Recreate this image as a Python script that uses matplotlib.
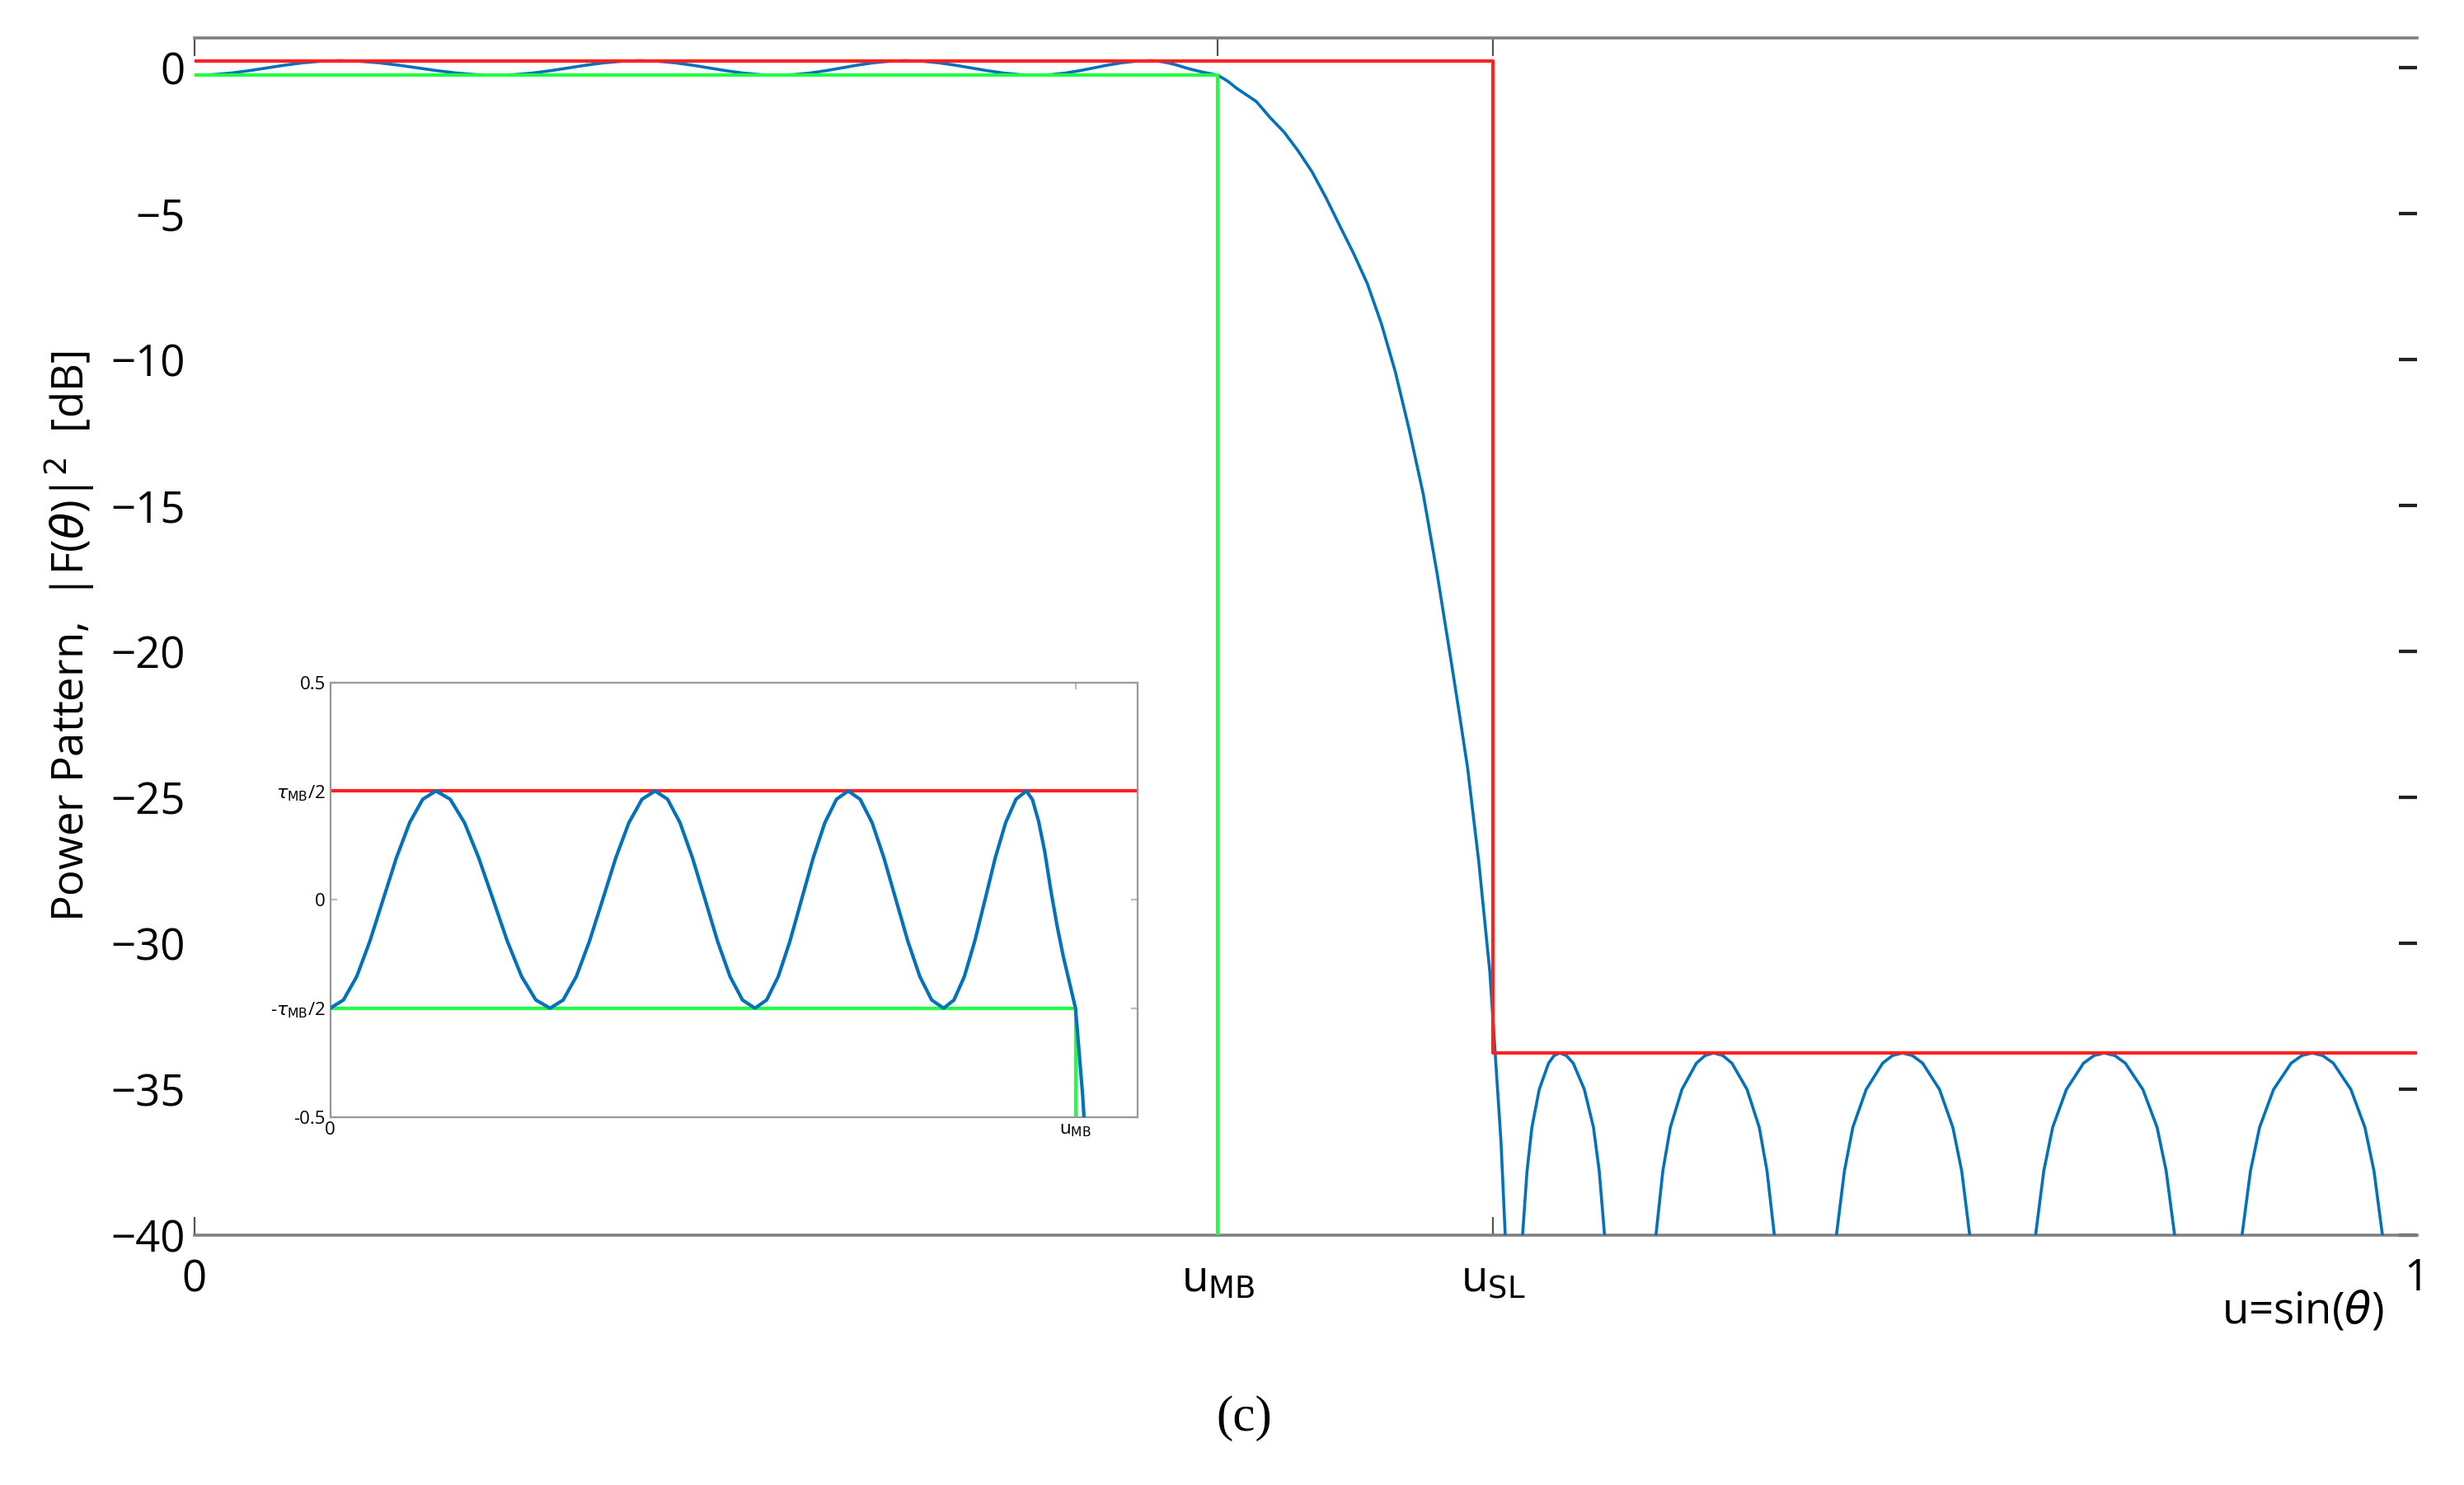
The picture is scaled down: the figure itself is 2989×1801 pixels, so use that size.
import numpy as np
import matplotlib
matplotlib.use("Agg")
import matplotlib.pyplot as plt

plt.rcParams["font.family"] = ["Open Sans", "DejaVu Sans"]
plt.rcParams["mathtext.fontset"] = "dejavusans"

# ── values ────────────────────────────────────────────────────────────
U_MB = 0.4606
U_SL = 0.5845
RIPPLE = 0.25          # tau_MB / 2  [dB]
SLL = -33.75           # side lobe level [dB]

# pass-band ripple (u, dB)
ripple_u = [0.0000, 0.0082, 0.0164, 0.0245, 0.0327, 0.0409, 0.0491, 0.0572, 0.0654,
            0.0742, 0.0830, 0.0918, 0.1007, 0.1095, 0.1183, 0.1271, 0.1359,
            0.1440, 0.1521, 0.1602, 0.1684, 0.1765, 0.1846, 0.1927, 0.2008,
            0.2085, 0.2162, 0.2239, 0.2317, 0.2394, 0.2471, 0.2548, 0.2625,
            0.2697, 0.2769, 0.2841, 0.2913, 0.2985, 0.3057, 0.3129, 0.3201,
            0.3275, 0.3349, 0.3422, 0.3496, 0.3570, 0.3644, 0.3717, 0.3791,
            0.3855, 0.3919, 0.3983, 0.4047, 0.4110, 0.4174, 0.4238, 0.4302,
            0.4340, 0.4378, 0.4416, 0.4454, 0.4492, 0.4530, 0.4568, 0.4606, 0.4650]
ripple_db = [-0.250, -0.231, -0.177, -0.096, 0.000, 0.096, 0.177, 0.231, 0.250,
             0.231, 0.177, 0.096, 0.000, -0.096, -0.177, -0.231, -0.250,
             -0.231, -0.177, -0.096, 0.000, 0.096, 0.177, 0.231, 0.250,
             0.231, 0.177, 0.096, 0.000, -0.096, -0.177, -0.231, -0.250,
             -0.231, -0.177, -0.096, 0.000, 0.096, 0.177, 0.231, 0.250,
             0.231, 0.177, 0.096, 0.000, -0.096, -0.177, -0.231, -0.250,
             -0.231, -0.177, -0.096, 0.000, 0.096, 0.177, 0.231, 0.250,
             0.230, 0.180, 0.110, 0.020, -0.060, -0.130, -0.190, -0.250, -0.450]

# transition band roll-off
roll_u = [0.4691, 0.4779, 0.4841, 0.4904, 0.4966, 0.5029, 0.5092, 0.5154,
          0.5217, 0.5279, 0.5342, 0.5404, 0.5467, 0.5530, 0.5592, 0.5655,
          0.5692, 0.5730, 0.5780, 0.5805, 0.5830, 0.5855, 0.5880, 0.5899, 0.5905]
roll_db = [-0.70, -1.15, -1.70, -2.20, -2.83, -3.55, -4.44, -5.40,
           -6.36, -7.40, -8.77, -10.4, -12.4, -14.6, -17.3, -20.3,
           -22.1, -24.0, -27.2, -29.1, -31.0, -33.9, -36.8, -40.0, -41.5]

# side lobes (u, dB), one list per lobe
lobe_db = [-40.0, -37.8, -36.3, -35.0, -34.1, -33.84, -33.75,
           -33.84, -34.1, -35.0, -36.3, -37.8, -40.0]
lobes_u = [
    [0.5977, 0.5997, 0.6019, 0.6052, 0.6094, 0.6119, 0.6144,
     0.6174, 0.6205, 0.6255, 0.6296, 0.6322, 0.6346],
    [0.6577, 0.6608, 0.6642, 0.6694, 0.6759, 0.6798, 0.6837,
     0.6878, 0.6919, 0.6987, 0.7042, 0.7077, 0.7110],
    [0.7389, 0.7425, 0.7463, 0.7523, 0.7597, 0.7641, 0.7686,
     0.7731, 0.7777, 0.7853, 0.7913, 0.7953, 0.7989],
    [0.8285, 0.8322, 0.8362, 0.8424, 0.8501, 0.8548, 0.8594,
     0.8642, 0.8689, 0.8768, 0.8832, 0.8873, 0.8911],
    [0.9214, 0.9252, 0.9293, 0.9356, 0.9435, 0.9483, 0.9530,
     0.9577, 0.9625, 0.9704, 0.9767, 0.9808, 0.9846],
]

y_ticks = [0, -5, -10, -15, -20, -25, -30, -35, -40]

BLUE = "#0072BD"
RED = "#FF2020"
GREEN = "#20FF40"

fig = plt.figure(figsize=(14.945, 9.005), dpi=200)
ax = fig.add_axes([0.0788, 0.1681, 0.9020, 0.8064])

# ── main plot ─────────────────────────────────────────────────────────
main_u = ripple_u + roll_u
main_db = ripple_db + roll_db
ax.plot(main_u, main_db, color=BLUE, lw=1.3, zorder=3)
for lu in lobes_u:
    ax.plot(lu, lobe_db, color=BLUE, lw=1.3, zorder=3)

ax.plot([0, U_SL, U_SL, 1], [RIPPLE, RIPPLE, SLL, SLL], color=RED, lw=1.5, zorder=4)
ax.plot([0, U_MB, U_MB], [-RIPPLE, -RIPPLE, -40], color=GREEN, lw=1.5, zorder=4)

ax.set_xlim(0, 1)
ax.set_ylim(-40, 1.03)
ax.set_yticks(y_ticks)
ax.set_yticklabels([f"{v}".replace("-", "\u2212") for v in y_ticks], fontsize=19)
ax.tick_params(axis="y", left=False, right=True, direction="in", length=8,
               width=1.5, color="#222222", pad=4)
ax.set_xticks([0, U_MB, U_SL])
ax.set_xticklabels(["0", "u$_{\\mathrm{MB}}$", "u$_{\\mathrm{SL}}$"], fontsize=19)
ax.tick_params(axis="x", bottom=True, top=True, direction="in", length=8,
               color="#555555", pad=10)
ax.text(1.0, -41.5, "1", fontsize=19, ha="center", va="center")
ax.text(0.985, -42.6, "u=sin($\\theta$)", fontsize=19, ha="right", va="center")
for side in ["left", "right"]:
    ax.spines[side].set_visible(False)
for side in ["top", "bottom"]:
    ax.spines[side].set_color("#808080")
    ax.spines[side].set_linewidth(1.3)
ax.set_ylabel("Power Pattern,  |F($\\theta$)|$^2$  [dB]", fontsize=19, labelpad=6)

# ── inset ─────────────────────────────────────────────────────────────
ins = fig.add_axes([0.134, 0.2479, 0.3276, 0.2926])
ins.plot(main_u, main_db, color=BLUE, lw=1.5, zorder=3)
ins.plot([0, 1], [RIPPLE, RIPPLE], color=RED, lw=1.5)
ins.plot([0, U_MB, U_MB], [-RIPPLE, -RIPPLE, -1], color=GREEN, lw=1.5)
ins.set_xlim(0, U_MB * 1.083)
ins.set_ylim(-0.5, 0.5)
ins.set_yticks([0.5, RIPPLE, 0, -RIPPLE, -0.5])
ins.set_yticklabels(["0.5", "$\\tau_{\\mathrm{MB}}$/2", "0",
                     "-$\\tau_{\\mathrm{MB}}$/2", "-0.5"], fontsize=8)
ins.set_xticks([0, U_MB])
ins.set_xticklabels(["0", "u$_{\\mathrm{MB}}$"], fontsize=8)
ins.tick_params(direction="in", length=3, color="#bbbbbb", pad=2,
                top=True, right=True)
for s in ins.spines.values():
    s.set_color("#999999")

fig.text(0.505, 0.045, "(c)", fontsize=22, family="Liberation Serif",
         ha="center", va="center")

fig.savefig("out.png", dpi=200, facecolor="white")
